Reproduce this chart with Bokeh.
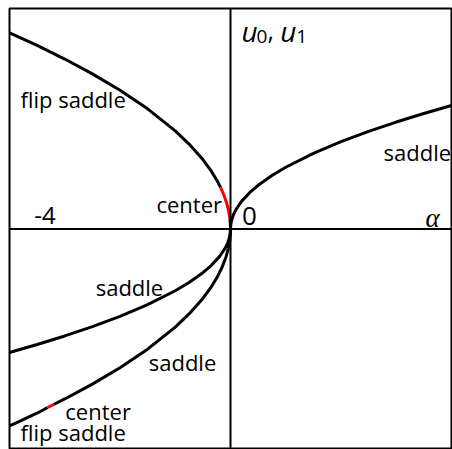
from bokeh.plotting import figure
from bokeh.models import Span
from bokeh.core.properties import value
from bokeh.embed import file_html
from bokeh.resources import INLINE

# Branches of the orbit diagram, u against alpha

# saddle branch for alpha > 0
saddle_pos_alpha = [0.0, 0.005, 0.02, 0.05, 0.1, 0.2, 0.35, 0.5, 0.75, 1.0, 1.5, 2.0, 2.5, 3.0, 3.5, 4.0]
saddle_pos_u = [0.0, 0.079, 0.158, 0.250, 0.354, 0.501, 0.663, 0.792, 0.970, 1.120, 1.372, 1.584, 1.771, 1.940, 2.095, 2.240]

# saddle branch for alpha < 0 (below the axis)
saddle_neg_alpha = [-4.0, -3.5, -3.0, -2.5, -2.0, -1.5, -1.0, -0.75, -0.5, -0.35, -0.2, -0.1, -0.05, -0.02, -0.005, 0.0]
saddle_neg_u = [-2.240, -2.095, -1.940, -1.771, -1.584, -1.372, -1.120, -0.970, -0.792, -0.663, -0.501, -0.354, -0.250, -0.158, -0.079, 0.0]

# upper flip-saddle branch, with its center stretch close to alpha = 0
upper_flip_alpha = [-4.0, -3.5, -3.0, -2.5, -2.0, -1.5, -1.0, -0.75, -0.5, -0.35, -0.25, -0.18]
upper_flip_u = [3.560, 3.330, 3.083, 2.814, 2.517, 2.180, 1.780, 1.541, 1.259, 1.053, 0.890, 0.755]
upper_center_alpha = [-0.18, -0.12, -0.07, -0.04, -0.02, -0.01]
upper_center_u = [0.755, 0.617, 0.471, 0.356, 0.252, 0.178]
upper_tail_alpha = [-0.01, -0.003, 0.0]
upper_tail_u = [0.178, 0.097, 0.0]

# lower flip-saddle branch, with a short center stretch near alpha = -3.26
lower_flip_a_alpha = [-4.0, -3.8, -3.6, -3.45, -3.31]
lower_flip_a_u = [-3.570, -3.480, -3.387, -3.315, -3.238]
lower_center_alpha = [-3.31, -3.26, -3.20]
lower_center_u = [-3.238, -3.214, -3.184]
lower_flip_b_alpha = [-3.20, -3.0, -2.5, -2.0, -1.5, -1.0, -0.75, -0.5, -0.35, -0.25, -0.15, -0.08, -0.04, -0.015, -0.004, 0.0]
lower_flip_b_u = [-3.184, -3.083, -2.814, -2.517, -2.180, -1.780, -1.541, -1.259, -1.053, -0.890, -0.689, -0.503, -0.356, -0.218, -0.113, 0.0]

tick_values = [-4, 0]
tick_labels = ["-4", "0"]

FONT = value("Open Sans")

p = figure(width=452, height=449, x_range=(-4, 4), y_range=(-4, 4),
           output_backend="svg", toolbar_location=None,
           x_axis_type=None, y_axis_type=None,
           min_border_left=9, min_border_right=1, min_border_top=8, min_border_bottom=0)
p.grid.visible = False
p.outline_line_color = "black"
p.outline_line_width = 2
p.background_fill_color = "white"
p.border_fill_color = "white"

# coordinate axes through the origin
p.add_layout(Span(location=0, dimension="width", line_color="black", line_width=2))
p.add_layout(Span(location=0, dimension="height", line_color="black", line_width=2))

LW = 3
p.line(saddle_pos_alpha, saddle_pos_u, line_color="black", line_width=LW)
p.line(saddle_neg_alpha, saddle_neg_u, line_color="black", line_width=LW)
p.line(upper_flip_alpha, upper_flip_u, line_color="black", line_width=LW)
p.line(upper_center_alpha, upper_center_u, line_color="red", line_width=LW)
p.line(upper_tail_alpha, upper_tail_u, line_color="black", line_width=LW)
p.line(lower_flip_a_alpha, lower_flip_a_u, line_color="black", line_width=LW)
p.line(lower_center_alpha, lower_center_u, line_color="red", line_width=LW)
p.line(lower_flip_b_alpha, lower_flip_b_u, line_color="black", line_width=LW)

# tick labels sitting just above the alpha axis
p.text(x=[tick_values[0] + 0.45], y=[0.24], text=[tick_labels[0]], text_font=FONT,
       text_font_size="24px", text_baseline="alphabetic", text_color="black")
p.text(x=[tick_values[1] + 0.21], y=[0.24], text=[tick_labels[1]], text_font=FONT,
       text_font_size="26px", text_baseline="alphabetic", text_color="black")

# axis names
p.text(x=[3.53], y=[0.20], text=["α"], text_font=value("Liberation Serif"),
       text_font_style="italic", text_font_size="27px", text_baseline="alphabetic")
p.text(x=[0.20, 0.90], y=[3.59, 3.59], text=["u", "u"], text_font=FONT,
       text_font_style="italic", text_font_size="28px", text_baseline="alphabetic")
p.text(x=[0.47, 1.19], y=[3.50, 3.50], text=["0", "1"], text_font=FONT,
       text_font_size="19px", text_baseline="alphabetic")
p.text(x=[0.67], y=[3.59], text=[","], text_font=FONT,
       text_font_size="25px", text_baseline="alphabetic")

# stability labels
lab_x = [-3.80, 2.77, -1.34, -2.44, -1.48, -2.99, -3.80]
lab_y = [2.36, 1.39, 0.46, -1.05, -2.41, -3.31, -3.68]
lab_t = ["flip saddle", "saddle", "center", "saddle", "saddle", "center", "flip saddle"]
p.text(x=lab_x, y=lab_y, text=lab_t, text_font=FONT, text_font_size="22px",
       text_baseline="alphabetic", text_color="black")

open("out.html", "w").write(file_html(p, INLINE))
